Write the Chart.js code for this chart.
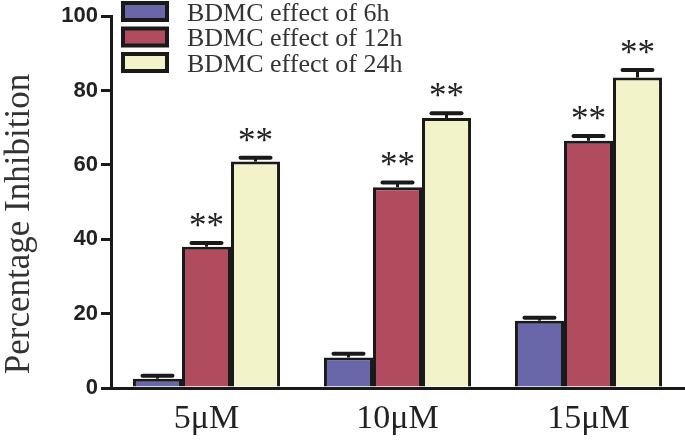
<!DOCTYPE html>
<html>
<head>
<meta charset="utf-8">
<script src="https://cdn.jsdelivr.net/npm/chart.js@4/dist/chart.umd.min.js"></script>
<style>
    html, body { margin: 0; padding: 0; background: #fff; }
    #wrap { width: 685px; height: 440px; }
</style>
</head>
<body>
<div id="wrap"><canvas id="inhibitionChart"></canvas></div>
<script>
// concentrations on the x axis
var doses = ['5\u03bcM', '10\u03bcM', '15\u03bcM'];

// mean percentage inhibition per exposure time
var effect6h = [2.5, 8.2, 18.1];
var effect12h = [38.0, 54.0, 66.5];
var effect24h = [60.9, 72.6, 83.5];

// SEM (upper error bar only)
var err6h = [0.8, 1.0, 0.8];
var err12h = [1.0, 1.3, 1.3];
var err24h = [1.0, 1.3, 2.0];

// significance marks
var sig6h = ['', '', ''];
var sig12h = ['**', '**', '**'];
var sig24h = ['**', '**', '**'];

var yTicks = [0, 20, 40, 60, 80, 100];
var yTitle = 'Percentage Inhibition';

const BAR_COLORS = {
    blue: 'rgb(106,102,170)',
    red: 'rgb(176,76,94)',
    yellow: 'rgb(243,243,202)'
};

var errorBarPlugin = {
    id: 'errorBars',
    afterDatasetsDraw: function(chart) {
        var ctx = chart.ctx;
        var yScale = chart.scales.y;
        ctx.save();
        chart.data.datasets.forEach(function(ds, i) {
            var meta = chart.getDatasetMeta(i);
            meta.data.forEach(function(bar, j) {
                var top = yScale.getPixelForValue(ds.data[j] + ds.errors[j]);
                var barTop = yScale.getPixelForValue(ds.data[j]);
                ctx.strokeStyle = '#1a1a1a';
                ctx.lineWidth = 3;
                ctx.beginPath();
                ctx.moveTo(bar.x, barTop);
                ctx.lineTo(bar.x, top);
                ctx.stroke();
                ctx.lineWidth = 4;
                ctx.lineCap = 'round';
                ctx.beginPath();
                ctx.moveTo(bar.x - 15, top);
                ctx.lineTo(bar.x + 15, top);
                ctx.stroke();
                ctx.lineCap = 'butt';
                if (ds.marks[j]) {
                    ctx.fillStyle = '#222';
                    ctx.font = '35px "Liberation Serif"';
                    ctx.textAlign = 'center';
                    ctx.textBaseline = 'alphabetic';
                    ctx.fillText(ds.marks[j], bar.x, top - 6);
                }
            });
        });
        ctx.restore();
    }
};

// legend drawn inside the plot, top left, plus the y title
var boxLegendPlugin = {
    id: 'boxLegend',
    afterDraw: function(chart) {
        var ctx = chart.ctx;
        ctx.save();
        chart.data.datasets.forEach(function(ds, i) {
            var y = 3 + i * 25.5;
            ctx.fillStyle = ds.backgroundColor;
            ctx.fillRect(123, y, 44, 17);
            ctx.strokeStyle = '#1a1a1a';
            ctx.lineWidth = 4;
            ctx.strokeRect(123, y, 44, 17);
            ctx.fillStyle = '#333';
            ctx.font = '26px "Liberation Serif"';
            ctx.textAlign = 'left';
            ctx.textBaseline = 'alphabetic';
            ctx.fillText(ds.label, 187, y + 17.5);
        });
        // y axis title, a bit below the middle like the original
        ctx.translate(29, 224);
        ctx.rotate(-Math.PI / 2);
        ctx.fillStyle = '#333';
        ctx.font = '35px "Liberation Serif"';
        ctx.textAlign = 'center';
        ctx.textBaseline = 'alphabetic';
        ctx.fillText(yTitle, 0, 0);
        ctx.restore();
    }
};

function makeSet(label, values, errors, marks, color) {
    return {
        label: label,
        data: values,
        errors: errors,
        marks: marks,
        backgroundColor: color,
        borderColor: '#1a1a1a',
        borderWidth: 3,
        barPercentage: 1.0,
        categoryPercentage: 0.77
    };
}

var ctx = document.getElementById('inhibitionChart');
var myChart = new Chart(ctx, {
    type: 'bar',
    data: {
        labels: doses,
        datasets: [
            makeSet('BDMC effect of 6h', effect6h, err6h, sig6h, BAR_COLORS.blue),
            makeSet('BDMC effect of 12h', effect12h, err12h, sig12h, BAR_COLORS.red),
            makeSet('BDMC effect of 24h', effect24h, err24h, sig24h, BAR_COLORS.yellow)
        ]
    },
    options: {
        responsive: true,
        maintainAspectRatio: false,
        animation: false,
        layout: { padding: { top: 12, right: 1, left: 0, bottom: 0 } },
        plugins: {
            legend: { display: false },
            tooltip: { enabled: false }
        },
        scales: {
            x: {
                grid: { display: false },
                border: { display: true, color: '#1a1a1a', width: 3 },
                ticks: {
                    color: '#222',
                    padding: 3,
                    font: { family: '"Liberation Serif"', size: 34 }
                },
                afterFit: function(s) { s.height = 52; }
            },
            y: {
                min: 0,
                max: 100,
                afterBuildTicks: function(s) {
                    s.ticks = yTicks.map(function(v) { return { value: v }; });
                },
                grid: {
                    drawOnChartArea: false,
                    drawTicks: true,
                    tickLength: 10,
                    color: '#1a1a1a',
                    lineWidth: 3
                },
                border: { display: true, color: '#1a1a1a', width: 3 },
                ticks: {
                    color: '#222',
                    padding: 3,
                    font: { family: '"Liberation Sans"', size: 22, weight: 'bold' }
                },
                title: { display: false },
                afterFit: function(s) { s.width = 111; }
            }
        }
    },
    plugins: [errorBarPlugin, boxLegendPlugin]
});
</script>
</body>
</html>
